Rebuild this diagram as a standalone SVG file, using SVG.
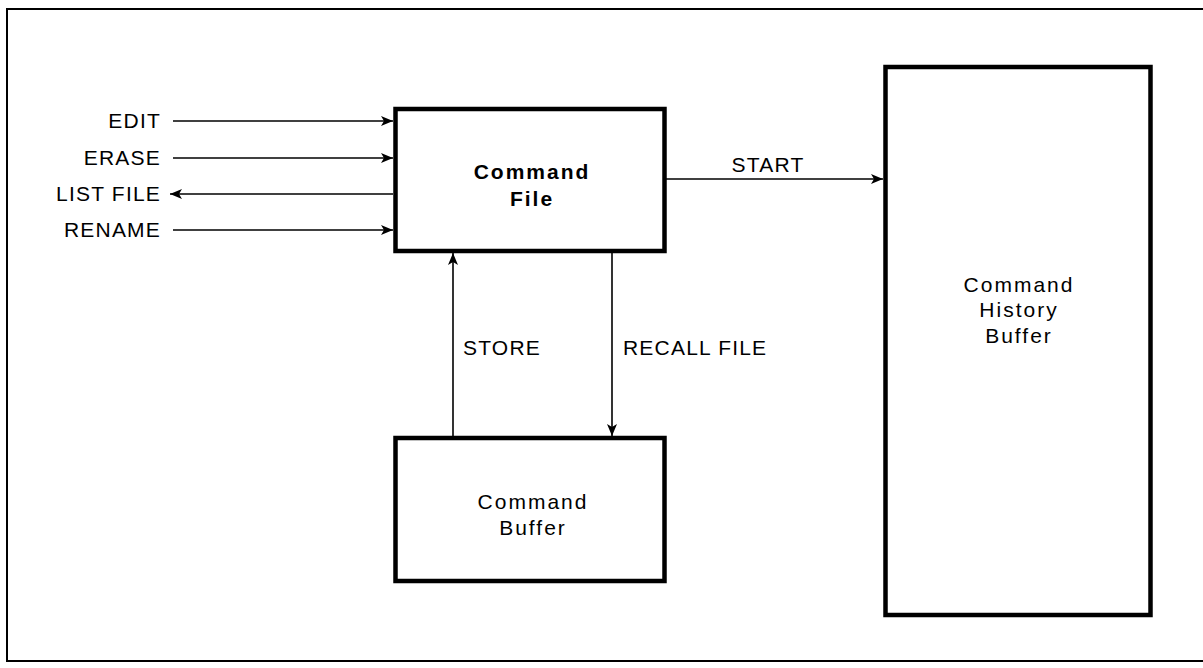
<svg xmlns="http://www.w3.org/2000/svg" width="1203" height="668" viewBox="0 0 1203 668">
<style>
.t{font-family:"Liberation Sans",Arial,sans-serif;font-size:21px;fill:#000;letter-spacing:1.2px}
.m{letter-spacing:2px}
.b{font-weight:bold}
.box{fill:#fff;stroke:#000;stroke-width:4.5}
.c{stroke:#000;stroke-width:1.6;fill:none}
</style>
<defs>
<marker id="ah" viewBox="0 0 12 10" refX="12" refY="5" markerWidth="12" markerHeight="10" markerUnits="userSpaceOnUse" orient="auto">
<path d="M0,0 L12,5 L0,10 L3,5 Z" fill="#000"/>
</marker>
</defs>
<rect x="0" y="0" width="1203" height="668" fill="#fff"/>
<path d="M1203,9 H7 V661 H1203" fill="none" stroke="#000" stroke-width="2"/>
<g id="connectors">
<line class="c" x1="173" y1="121" x2="393" y2="121" marker-end="url(#ah)"/>
<line class="c" x1="173" y1="158" x2="393" y2="158" marker-end="url(#ah)"/>
<line class="c" x1="393" y1="194" x2="170" y2="194" marker-end="url(#ah)"/>
<line class="c" x1="173" y1="230" x2="393" y2="230" marker-end="url(#ah)"/>
<line class="c" x1="666" y1="179" x2="883" y2="179" marker-end="url(#ah)"/>
<line class="c" x1="453" y1="436" x2="453" y2="253" marker-end="url(#ah)"/>
<line class="c" x1="612" y1="253" x2="612" y2="436" marker-end="url(#ah)"/>
<text class="t" x="161" y="128" text-anchor="end">EDIT</text>
<text class="t" x="161" y="165" text-anchor="end">ERASE</text>
<text class="t" x="161" y="201" text-anchor="end">LIST FILE</text>
<text class="t" x="161" y="237" text-anchor="end">RENAME</text>
<text class="t" x="768" y="172" text-anchor="middle">START</text>
<text class="t" x="463" y="355">STORE</text>
<text class="t" x="623" y="355">RECALL FILE</text>
</g>
<g id="command-file">
<rect class="box" x="395.5" y="109" width="269" height="142"/>
<text class="t b m" x="532" y="179" text-anchor="middle">Command</text>
<text class="t b m" x="532" y="206" text-anchor="middle">File</text>
</g>
<g id="command-buffer">
<rect class="box" x="395.5" y="438" width="269" height="143"/>
<text class="t m" x="533" y="509" text-anchor="middle">Command</text>
<text class="t m" x="533" y="535" text-anchor="middle">Buffer</text>
</g>
<g id="command-history-buffer">
<rect class="box" x="885.5" y="67" width="265" height="548"/>
<text class="t m" x="1019" y="292" text-anchor="middle">Command</text>
<text class="t m" x="1019" y="317" text-anchor="middle">History</text>
<text class="t m" x="1019" y="343" text-anchor="middle">Buffer</text>
</g>
</svg>
